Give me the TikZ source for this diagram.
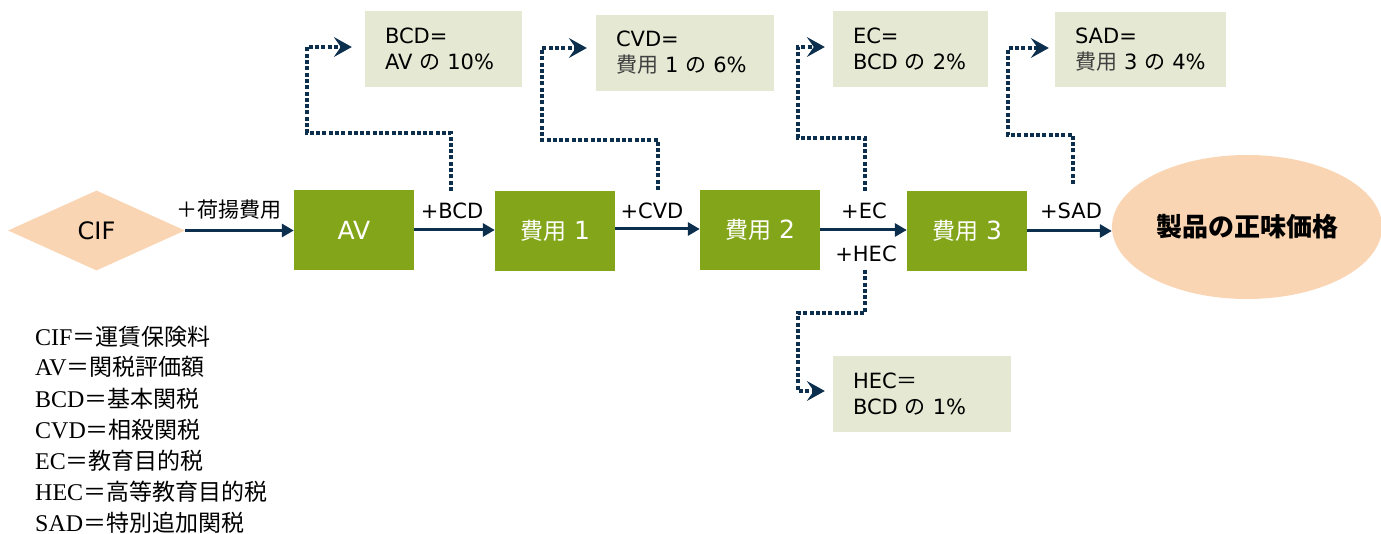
\documentclass[tikz,border=0pt]{standalone}
\usepackage{fontspec}
\setmainfont{DejaVu Sans}
\newfontfamily\jp{Noto Sans CJK JP}
\newfontfamily\tms{Liberation Serif}
\usetikzlibrary{arrows.meta,shapes.geometric}
\definecolor{grn}{HTML}{83A51A}
\definecolor{beige}{HTML}{E5E9D3}
\definecolor{peach}{HTML}{FAD5B4}
\definecolor{navy}{HTML}{0C2F4D}
\newcommand{\fs}[2]{\fontsize{#1}{#2}\selectfont}
\begin{document}
\begin{tikzpicture}[x=1pt,y=-1pt,
  gbox/.style={rectangle,fill=grn,text=white,minimum width=120,minimum height=80,inner sep=0,font=\fs{25}{30}},
  note/.style={rectangle,fill=beige,inner xsep=20,inner ysep=0,align=left,font=\fs{21}{26}},
  lbl/.style={inner sep=0,font=\fs{21}{24}},
  flow/.style={navy,line width=3,-{Triangle[length=12pt,width=13pt]}},
  dotc/.style={navy,line width=4,dash pattern=on 4 off 2.3,-{Stealth[length=18pt,width=20pt,inset=7pt,line width=1pt]}},
  leg/.style={anchor=base west,inner sep=0,font=\fs{24}{28}}]
\useasboundingbox (0,0) rectangle (1381,534);

% main flow nodes
\node[diamond,fill=peach,minimum width=177,minimum height=80,inner sep=0,font=\fs{24}{28}] (cif) at (96.5,230.5) {CIF};
\node[gbox] (av) at (354,230) {AV};
\node[gbox] (f1) at (555,231) {{\jp\fs{23}{26}費用} 1};
\node[gbox] (f2) at (760,230) {{\jp\fs{23}{26}費用} 2};
\node[gbox] (f3) at (967,231) {{\jp\fs{23}{26}費用} 3};
\node[ellipse,fill=peach,minimum width=270,minimum height=144,inner sep=0] (net) at (1247,227) {{\jp\bfseries\fs{26}{30}製品の正味価格}};

% flow arrows
\draw[flow] (cif.east) -- (cif.east -| av.west);
\draw[flow] (av.east) -- (av.east -| f1.west);
\draw[flow] ([yshift=2]f1.east) -- ([yshift=2]f1.east -| f2.west);
\draw[flow] (f2.east) -- (f2.east -| f3.west);
\draw[flow] (f3.east) -- (f3.east -| net.west);

% flow labels
\node[lbl] (lland) at (229,210) {{\jp\fs{21}{24}＋荷揚費用}};
\node[lbl] (lbcd) at (452,211) {+BCD};
\node[lbl] (lcvd) at (652,211) {+CVD};
\node[lbl] (lec) at (864,211) {+EC};
\node[lbl] (lhec) at (866,254) {+HEC};
\node[lbl] (lsad) at (1071,211) {+SAD};

% note boxes
\node[note,minimum width=157,minimum height=76,text width=117] (bcd) at (443.5,49) {BCD=\\AV {\jp の} 10\%};
\node[note,minimum width=178,minimum height=76,text width=138] (cvd) at (685,53) {CVD=\\{\jp\color{black!75}費用} 1 {\jp の} 6\%};
\node[note,minimum width=155,minimum height=76,text width=115] (ec) at (910.5,49) {EC=\\BCD {\jp の} 2\%};
\node[note,minimum width=171,minimum height=75,text width=131] (sad) at (1140.5,49.5) {SAD=\\{\jp\color{black!75}費用} 3 {\jp の} 4\%};
\node[note,minimum width=178,minimum height=76,text width=138] (hec) at (922,394) {HEC{\jp ＝}\\BCD {\jp の} 1\%};

% dotted connectors
\coordinate (sbcd) at (451,191);
\coordinate (scvd) at (658,190);
\coordinate (sec) at (865,191);
\coordinate (ssad) at (1073,184);
\coordinate (shec) at (865,270);
\draw[dotc] (sbcd) |- (307,133) |- ([shift={(-13,-2)}]bcd.west);
\draw[dotc] (scvd) |- (542,140) |- ([shift={(-9,-5)}]cvd.west);
\draw[dotc] (sec) |- (798,138) |- ([shift={(-8,-2)}]ec.west);
\draw[dotc] (ssad) |- (1008,135) |- ([shift={(-6,-1.5)}]sad.west);
\draw[dotc] (shec) |- (798,313) |- ([shift={(-8,-3)}]hec.west);

% legend
\node[leg] (g1) at (35,345) {{\tms CIF}{\jp\fs{23}{28}＝運賃保険料}};
\node[leg] (g2) at (35,376) {{\tms AV}{\jp\fs{23}{28}＝関税評価額}};
\node[leg] (g3) at (35,407) {{\tms BCD}{\jp\fs{23}{28}＝基本関税}};
\node[leg] (g4) at (35,438) {{\tms CVD}{\jp\fs{23}{28}＝相殺関税}};
\node[leg] (g5) at (35,469) {{\tms EC}{\jp\fs{23}{28}＝教育目的税}};
\node[leg] (g6) at (35,500) {{\tms HEC}{\jp\fs{23}{28}＝高等教育目的税}};
\node[leg] (g7) at (35,531) {{\tms SAD}{\jp\fs{23}{28}＝特別追加関税}};
\end{tikzpicture}
\end{document}
